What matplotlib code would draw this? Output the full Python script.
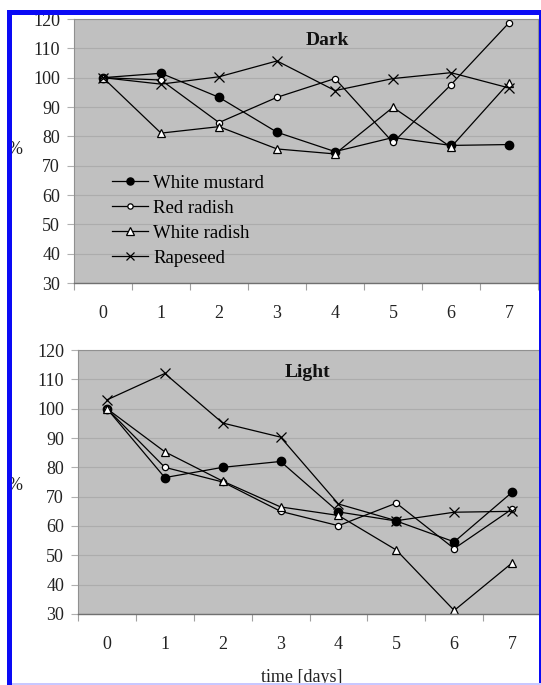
import numpy as np
import matplotlib
matplotlib.use('Agg')
import matplotlib.pyplot as plt
from matplotlib.patches import Rectangle

# dias de medicion
days = [0, 1, 2, 3, 4, 5, 6, 7]

# oscuridad (%)
dark_white_mustard = [100, 101.5, 93.3, 81.4, 74.8, 79.6, 76.9, 77.2]
dark_red_radish = [100, 99.2, 84.7, 93.3, 99.7, 77.9, 97.6, 118.7]
dark_white_radish = [100, 81.1, 83.3, 75.7, 74.0, 89.9, 76.3, 98.3]
dark_rapeseed = [100, 97.8, 100.3, 105.7, 95.6, 99.7, 101.7, 96.5]

# luz (%)
light_white_mustard = [100, 76.5, 80.0, 82.0, 64.8, 61.7, 54.6, 71.5]
light_red_radish = [100, 80.0, 75.0, 65.0, 60.1, 67.8, 52.3, 65.8]
light_white_radish = [100, 85.3, 75.3, 66.5, 63.6, 51.8, 31.2, 47.4]
light_rapeseed = [103.0, 112.0, 95.1, 90.3, 67.5, 61.8, 64.7, 65.0]

labels = ['White mustard', 'Red radish', 'White radish', 'Rapeseed']

plt.rcParams['font.family'] = ['Liberation Serif', 'DejaVu Serif']

W, H = 541, 685
fig = plt.figure(figsize=(W / 100, H / 100), dpi=100)
fig.patch.set_facecolor('white')

BG = '#c0c0c0'


def styleAxis(ax, title, tx, ty):
	ax.set_facecolor(BG)
	ax.set_xlim(-0.5, 7.5)
	ax.set_ylim(30, 120)
	ax.set_yticks(np.arange(30, 121, 10))
	ax.set_xticks(days)
	ax.set_xticks(np.arange(-0.5, 8, 1), minor=True)
	ax.tick_params(axis='x', which='major', length=0, pad=16, labelsize=13, labelcolor='#222222')
	ax.tick_params(axis='x', which='minor', length=5, color='#a0a0a0', width=0.8)
	ax.tick_params(axis='y', length=5, color='#b0b0b0', width=0.8, pad=5, labelsize=13, labelcolor='#222222')
	ax.grid(axis='y', color='#acacac', linewidth=0.8)
	ax.set_axisbelow(True)
	for s in ['top', 'right', 'left']:
		ax.spines[s].set_color('#909090')
		ax.spines[s].set_linewidth(0.8)
	ax.spines['bottom'].set_color('#707070')
	ax.spines['bottom'].set_linewidth(1.0)
	ax.text(tx, ty, title, transform=ax.transAxes, ha='center', va='center',
		fontsize=14, fontweight='bold', color='#111111')


def plotSeries(ax, mustard, red, white, rape):
	kw = dict(color='black', linewidth=0.9)
	ax.plot(days, mustard, marker='o', ms=6, mfc='black', mec='black', label=labels[0], **kw)
	ax.plot(days, red, marker='o', ms=4.5, mfc='white', mec='black', mew=0.9, label=labels[1], **kw)
	ax.plot(days, white, marker='^', ms=6, mfc='white', mec='black', mew=0.9, label=labels[2], **kw)
	ax.plot(days, rape, marker='x', ms=6.5, mec='black', mew=0.9, label=labels[3], **kw)


#####################################################################
# Panel superior: oscuridad
#####################################################################
ax1 = fig.add_axes([74 / W, (H - 283) / H, (538 - 74) / W, (283 - 19) / H])
styleAxis(ax1, 'Dark', 0.545, 0.917)
plotSeries(ax1, dark_white_mustard, dark_red_radish, dark_white_radish, dark_rapeseed)
ax1.legend(loc='upper left', bbox_to_anchor=(0.082, 0.411), frameon=False, fontsize=13.5,
	handlelength=1.9, handletextpad=0.3, labelspacing=0.42, borderpad=0, borderaxespad=0,
	markerscale=0.85)

#####################################################################
# Panel inferior: luz
#####################################################################
ax2 = fig.add_axes([78 / W, (H - 614) / H, (541 - 78) / W, (614 - 350) / H])
styleAxis(ax2, 'Light', 0.495, 0.913)
plotSeries(ax2, light_white_mustard, light_red_radish, light_white_radish, light_rapeseed)

# etiquetas de ejes
fig.text(15 / W, 1 - 150 / H, '%', fontsize=13, ha='center', va='center', color='#222222')
fig.text(15 / W, 1 - 486 / H, '%', fontsize=13, ha='center', va='center', color='#222222')
fig.text(302 / W, 1 - 669 / H, 'time [days]', fontsize=13, ha='center', va='top', color='#222222')

# marco azul del escaneo
blue = '#0a0af5'
fig.add_artist(Rectangle((7 / W, 1 - 15 / H), (W - 7) / W, 5 / H, transform=fig.transFigure,
	facecolor=blue, edgecolor='none', zorder=10))
fig.add_artist(Rectangle((7 / W, 0), 5 / W, 1 - 10 / H, transform=fig.transFigure,
	facecolor=blue, edgecolor='none', zorder=10))
fig.add_artist(Rectangle((539 / W, 0), 2 / W, 1 - 10 / H, transform=fig.transFigure,
	facecolor=blue, edgecolor='none', zorder=10))
fig.add_artist(Rectangle((12 / W, 0), (W - 12) / W, 2 / H, transform=fig.transFigure,
	facecolor='#c8c8ff', edgecolor='none', zorder=10))

fig.savefig('out.png', dpi=100)
